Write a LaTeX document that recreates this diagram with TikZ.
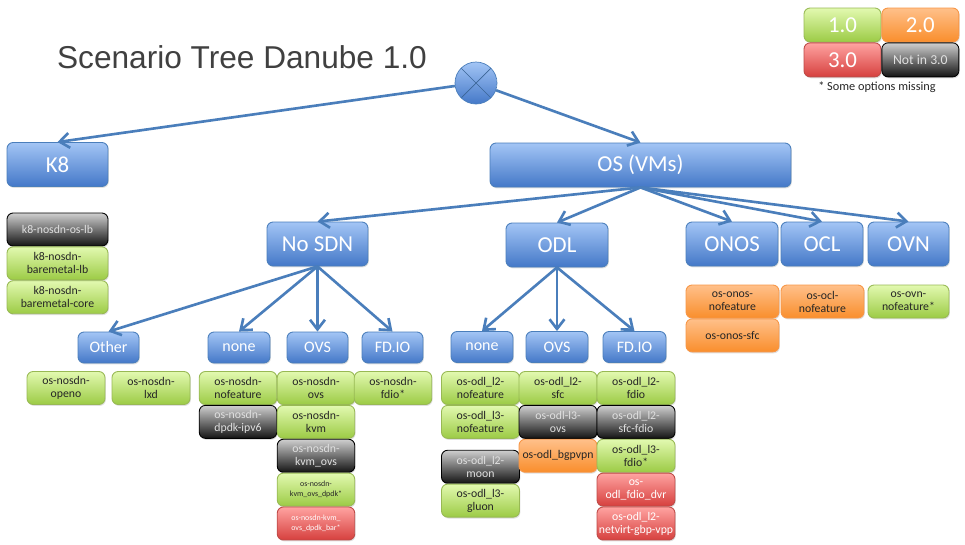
\documentclass[tikz,border=0pt]{standalone}
\usepackage{fontspec}
\setmainfont{Carlito}
\newfontfamily\titlefont{Liberation Sans}
\usepackage{tikz}
\usetikzlibrary{positioning,arrows.meta,shadows}
\definecolor{arrowblue}{HTML}{4A7EBB}
\definecolor{blueTop}{HTML}{A3C5F5}
\definecolor{blueBot}{HTML}{4478C8}
\definecolor{blueEdge}{HTML}{4A7EBB}
\definecolor{greenTop}{HTML}{E2F9B0}
\definecolor{greenBot}{HTML}{9CCB45}
\definecolor{greenEdge}{HTML}{98B954}
\definecolor{orangeTop}{HTML}{FFC08A}
\definecolor{orangeBot}{HTML}{F98E2C}
\definecolor{orangeEdge}{HTML}{F79646}
\definecolor{redTop}{HTML}{FFA3A1}
\definecolor{redBot}{HTML}{D6403E}
\definecolor{redEdge}{HTML}{BE4B48}
\definecolor{greyTop}{HTML}{CFCFCF}
\definecolor{greyBot}{HTML}{141414}
\definecolor{titlegray}{HTML}{404040}

\begin{document}
\begin{tikzpicture}[x=0.02cm, y=-0.02cm,
    box/.style={rectangle, rounded corners=3.5pt, draw, line width=0.5pt, align=center, inner sep=1pt, drop shadow={opacity=0.25, shadow xshift=0.5pt, shadow yshift=-0.8pt}},
    main/.style={box, top color=blueTop, bottom color=blueBot, draw=blueEdge, text=white, font=\fontsize{13}{15}\selectfont, minimum height=0.88cm},
    sub/.style={main, font=\fontsize{9.1}{11}\selectfont, minimum height=0.62cm},
    leaf/.style={box, font=\fontsize{6.7}{7.4}\selectfont, minimum height=0.66cm, minimum width=1.55cm},
    v1/.style={leaf, top color=greenTop, bottom color=greenBot, draw=greenEdge, text=black!85},
    v2/.style={leaf, top color=orangeTop, bottom color=orangeBot, draw=orangeEdge, text=black!85},
    v3/.style={leaf, top color=redTop, bottom color=redBot, draw=redEdge, text=white},
    nv3/.style={leaf, top color=greyTop, bottom color=greyBot, draw=black, text=white!88!black},
    tiny/.style={font=\fontsize{4.5}{5.4}\selectfont},
    link/.style={draw=arrowblue, line width=1.5pt, -{Straight Barb[length=5.5pt, width=8.5pt]}}]
    \useasboundingbox (0,0) rectangle (965,545);
    % title and root
    \node[font=\titlefont\fontsize{18}{20}\selectfont, text=titlegray] (title) at (242,57) {Scenario Tree Danube 1.0};
    \node[circle, minimum size=0.84cm, draw=blueEdge, top color=blueTop, bottom color=blueBot,
        path picture={\draw[blueEdge!80!black, line width=0.4pt] (path picture bounding box.north west) -- (path picture bounding box.south east) (path picture bounding box.north east) -- (path picture bounding box.south west);}] (root) at (476,83) {};
    % legend
    \node[v1, minimum width=1.54cm, minimum height=0.68cm, font=\fontsize{13}{15}\selectfont, text=white] (leg1) at (842.5,25) {1.0};
    \node[v2, minimum width=1.54cm, minimum height=0.68cm, font=\fontsize{13}{15}\selectfont, text=white, right=0pt of leg1] (leg2) {2.0};
    \node[v3, minimum width=1.54cm, minimum height=0.68cm, font=\fontsize{13}{15}\selectfont, below=0pt of leg1] (leg3) {3.0};
    \node[nv3, minimum width=1.54cm, minimum height=0.68cm, font=\fontsize{7.8}{9}\selectfont, right=0pt of leg3] (leg4) {Not in 3.0};
    \node[font=\fontsize{7}{8}\selectfont, text=black!85] (legnote) at (877,87) {* Some options missing};
    % level 1
    \node[main, minimum width=2.02cm] (k8) at (57.5,164.5) {K8};
    \node[main, minimum width=6.02cm] (os) at (640.5,165) {OS (VMs)};
    % level 2
    \node[main, minimum width=2.02cm] (nosdn) at (317.5,244) {No SDN};
    \node[main, minimum width=2.04cm] (odl) at (557,245) {ODL};
    \node[main, minimum width=1.84cm] (onos) at (732,244) {ONOS};
    \node[main, minimum width=1.64cm] (ocl) at (822,244) {OCL};
    \node[main, minimum width=1.62cm] (ovn) at (908.5,244) {OVN};
    % level 3
    \node[sub, minimum width=1.22cm] (other) at (108.5,347.5) {Other};
    \node[sub, minimum width=1.24cm] (nosdnnone) at (239,347.5) {none};
    \node[sub, minimum width=1.22cm] (nosdnovs) at (317.5,347.5) {OVS};
    \node[sub, minimum width=1.22cm] (nosdnfdio) at (392.5,347.5) {FD.IO};
    \node[sub, minimum width=1.24cm] (odlnone) at (482,347) {none};
    \node[sub, minimum width=1.24cm] (odlovs) at (557,347) {OVS};
    \node[sub, minimum width=1.26cm] (odlfdio) at (634.5,347) {FD.IO};
    % K8 scenarios
    \node[nv3, minimum width=2.02cm] (k8oslb) at (57.5,229.5) {k8-nosdn-os-lb};
    \node[v1, minimum width=2.02cm, below=0pt of k8oslb] (k8bmlb) {k8-nosdn-\\baremetal-lb};
    \node[v1, minimum width=2.02cm, below=0pt of k8bmlb] (k8bmcore) {k8-nosdn-\\baremetal-core};
    % No SDN scenarios
    \node[v1, minimum width=1.56cm] (openo) at (66,388) {os-nosdn-\\openo};
    \node[v1, minimum width=1.56cm] (lxd) at (151,388) {os-nosdn-\\lxd};
    \node[v1] (nofeature) at (238,388) {os-nosdn-\\nofeature};
    \node[nv3, below=0pt of nofeature] (ipv6) {os-nosdn-\\dpdk-ipv6};
    \node[v1] (ovs) at (316,388) {os-nosdn-\\ovs};
    \node[v1, below=0pt of ovs] (kvm) {os-nosdn-\\kvm};
    \node[nv3, below=0pt of kvm] (kvmovs) {os-nosdn-\\kvm\_ovs};
    \node[v1, tiny, below=0pt of kvmovs] (kvmdpdk) {os-nosdn-\\kvm\_ovs\_dpdk*};
    \node[v3, tiny, below=0pt of kvmdpdk] (kvmbar) {os-nosdn-kvm\_\\ovs\_dpdk\_bar*};
    \node[v1] (fdio) at (393,388) {os-nosdn-\\fdio*};
    % ODL scenarios
    \node[v1, minimum width=1.56cm] (l2nofeature) at (480.5,388) {os-odl\_l2-\\nofeature};
    \node[v1, minimum width=1.56cm, below=0pt of l2nofeature] (l3nofeature) {os-odl\_l3-\\nofeature};
    \node[nv3, minimum width=1.56cm, below=0.22cm of l3nofeature] (moon) {os-odl\_l2-\\moon};
    \node[v1, minimum width=1.56cm, below=0pt of moon] (gluon) {os-odl\_l3-\\gluon};
    \node[v1, minimum width=1.56cm] (l2sfc) at (558,388) {os-odl\_l2-\\sfc};
    \node[nv3, minimum width=1.56cm, below=0pt of l2sfc] (l3ovs) {os-odl-l3-\\ovs};
    \node[v2, minimum width=1.56cm, below=0pt of l3ovs] (bgpvpn) {os-odl\_bgpvpn};
    \node[v1, minimum width=1.56cm] (l2fdio) at (636,388) {os-odl\_l2-\\fdio};
    \node[nv3, minimum width=1.56cm, below=0pt of l2fdio] (sfcfdio) {os-odl\_l2-\\sfc-fdio};
    \node[v1, minimum width=1.56cm, below=0pt of sfcfdio] (l3fdio) {os-odl\_l3-\\fdio*};
    \node[v3, minimum width=1.56cm, below=0pt of l3fdio] (fdiodvr) {os-\\odl\_fdio\_dvr};
    \node[v3, minimum width=1.56cm, below=0pt of fdiodvr] (gbpvpp) {os-odl\_l2-\\netvirt-gbp-vpp};
    % ONOS, OCL, OVN scenarios
    \node[v2, minimum width=1.86cm] (onosnofeature) at (732.5,301.5) {os-onos-\\nofeature};
    \node[v2, minimum width=1.86cm, below=0pt of onosnofeature] (onossfc) {os-onos-sfc};
    \node[v2, minimum width=1.66cm] (oclnofeature) at (822.5,301.5) {os-ocl-\\nofeature};
    \node[v1, minimum width=1.62cm] (ovnnofeature) at (908.5,301.5) {os-ovn-\\nofeature*};
    % arrows
    \draw[link] (root) -- (k8.north);
    \draw[link] (root) -- (os.north);
    \draw[link] (os.south) -- (nosdn.north);
    \draw[link] (os.south) -- (odl.north);
    \draw[link] (os.south) -- (onos.north);
    \draw[link] (os.south) -- (ocl.north);
    \draw[link] (os.south) -- (ovn.north);
    \draw[link] (nosdn.south) -- (other.north);
    \draw[link] (nosdn.south) -- (nosdnnone.north);
    \draw[link] (nosdn.south) -- (nosdnovs.north);
    \draw[link] (nosdn.south) -- (nosdnfdio.north);
    \draw[link] (odl.south) -- (odlnone.north);
    \draw[link] (odl.south) -- (odlovs.north);
    \draw[link] (odl.south) -- (odlfdio.north);
\end{tikzpicture}
\end{document}
